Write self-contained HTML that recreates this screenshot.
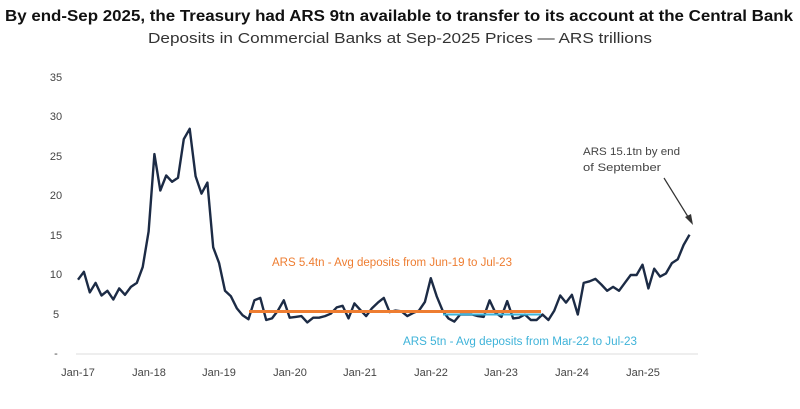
<!DOCTYPE html>
<html><head><meta charset="utf-8"><style>
body{margin:0;background:#fff;}
svg{display:block;font-family:"Liberation Sans",sans-serif;}
</style></head><body>
<svg width="800" height="409" viewBox="0 0 800 409">
<text x="5" y="21" font-size="16" font-weight="bold" fill="#111" textLength="788" lengthAdjust="spacingAndGlyphs">By end-Sep 2025, the Treasury had ARS 9tn available to transfer to its account at the Central Bank</text>
<text x="148" y="43" font-size="14.5" fill="#333" textLength="504" lengthAdjust="spacingAndGlyphs">Deposits in Commercial Banks at Sep-2025 Prices — ARS trillions</text>
<g font-size="11" fill="#444" text-anchor="middle">
<text x="56" y="81">35</text><text x="56" y="120">30</text><text x="56" y="160">25</text><text x="56" y="199">20</text><text x="56" y="239">15</text><text x="56" y="278">10</text><text x="56" y="318">5</text><text x="56" y="357">-</text>
</g>
<line x1="76" y1="354" x2="698" y2="354" stroke="#ddd" stroke-width="1"/>
<g font-size="11" fill="#444" text-anchor="middle">
<text x="78" y="376">Jan-17</text><text x="149" y="376">Jan-18</text><text x="219" y="376">Jan-19</text><text x="290" y="376">Jan-20</text><text x="360" y="376">Jan-21</text><text x="431" y="376">Jan-22</text><text x="501" y="376">Jan-23</text><text x="572" y="376">Jan-24</text><text x="643" y="376">Jan-25</text>
</g>
<polyline id="l" fill="none" stroke="#1c2b45" stroke-width="2.4" stroke-linejoin="round" points=""/>
<line x1="249" y1="311.5" x2="541" y2="311.5" stroke="#ee7d31" stroke-width="3"/>
<line x1="443" y1="314.5" x2="541" y2="314.5" stroke="#3fb3d9" stroke-width="2"/>
<text x="272" y="266" font-size="11.5" fill="#ee7d31" textLength="240" lengthAdjust="spacingAndGlyphs">ARS 5.4tn - Avg deposits from Jun-19 to Jul-23</text>
<text x="403" y="345" font-size="11.5" fill="#3fb3d9" textLength="234" lengthAdjust="spacingAndGlyphs">ARS 5tn - Avg deposits from Mar-22 to Jul-23</text>
<text x="583" y="155" font-size="11" fill="#444" textLength="97" lengthAdjust="spacingAndGlyphs">ARS 15.1tn by end</text>
<text x="583" y="171" font-size="11" fill="#444" textLength="78" lengthAdjust="spacingAndGlyphs">of September</text>
<line x1="664" y1="178" x2="690" y2="220" stroke="#333" stroke-width="1.2"/>
<polygon points="693,225 685,217 691,214" fill="#333"/>
<script>
var d=[9.4,10.4,7.8,9.0,7.4,8.0,6.9,8.3,7.5,8.5,9.0,11.0,
15.5,25.3,20.7,22.6,21.8,22.3,27.2,28.5,22.5,20.3,21.7,13.5,
11.5,8.0,7.3,5.8,4.9,4.4,6.8,7.1,4.3,4.5,5.5,6.8,
4.6,4.7,4.8,4.0,4.6,4.6,4.8,5.1,5.9,6.1,4.5,6.4,
5.6,4.8,5.8,6.5,7.1,5.3,5.5,5.4,4.8,5.2,5.5,6.6,
9.6,7.3,5.5,4.5,4.1,5.0,5.0,5.0,4.8,4.7,6.8,5.2,
4.7,6.7,4.5,4.6,5.0,4.3,4.3,5.0,4.3,5.5,7.4,6.5,
7.5,5.0,9.0,9.2,9.5,8.8,8.0,8.5,8.0,9.0,10.0,10.0,
11.3,8.3,10.8,9.8,10.2,11.5,12.0,13.8,15.1];
var p=d.map(function(v,i){return (78+i*5.88).toFixed(1)+","+(354-v*7.9).toFixed(1)}).join(" ");
document.getElementById("l").setAttribute("points",p);
</script>
</svg>
</body></html>
